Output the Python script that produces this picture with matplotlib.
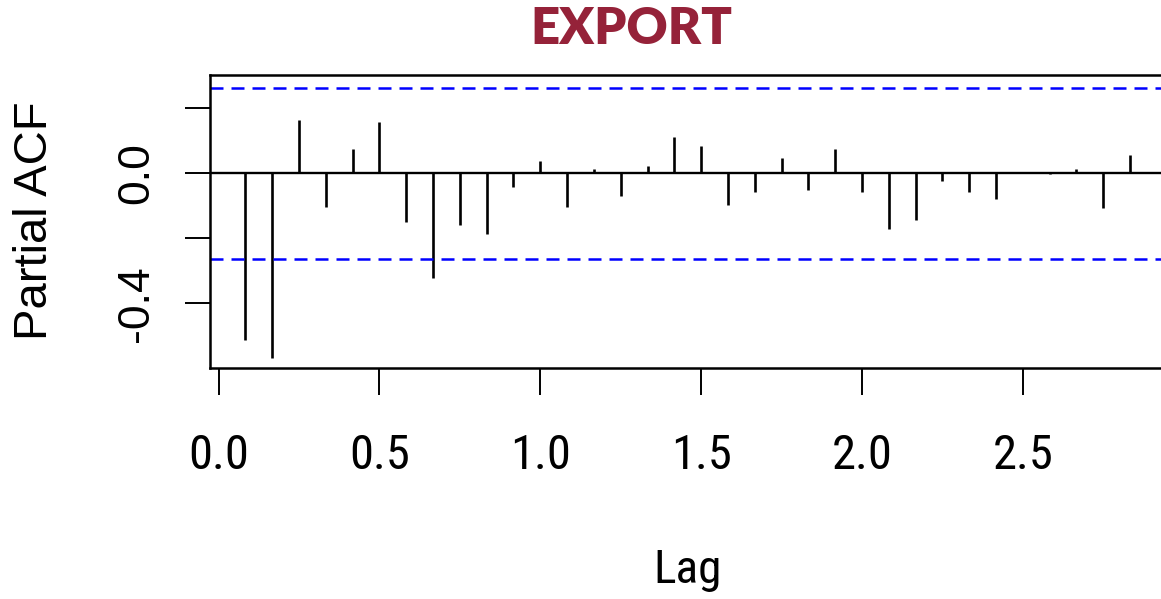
import numpy as np
import matplotlib
matplotlib.use("Agg")
import matplotlib.pyplot as plt
from matplotlib import font_manager

# Partial autocorrelation of the monthly export series, lags in years
freq = 12
lag_months = list(range(1, 35))
pacf_values = [-0.513, -0.567, 0.164, -0.104, 0.074, 0.157, -0.151, -0.323,
               -0.159, -0.187, -0.042, 0.039, -0.105, 0.012, -0.069, 0.021,
               0.111, 0.084, -0.096, -0.059, 0.047, -0.051, 0.075, -0.059,
               -0.170, -0.143, -0.024, -0.059, -0.078, 0.001, -0.001, 0.012,
               -0.106, 0.056]
conf_limit = 0.263
x_ticks = [0.0, 0.5, 1.0, 1.5, 2.0, 2.5]
x_tick_labels = ["0.0", "0.5", "1.0", "1.5", "2.0", "2.5"]
y_ticks = [-0.4, -0.2, 0.0, 0.2]
y_tick_labels = ["-0.4", "", "0.0", ""]

lags = np.array(lag_months) / freq

fonts = font_manager.fontManager.ttflist
names = {f.name for f in fonts}
base_font = "Liberation Sans" if "Liberation Sans" in names else "DejaVu Sans"

# a narrow sans for the x-axis text, if one is installed
narrow_font, narrow_stretch = None, "normal"
for cand in ["Liberation Sans Narrow", "Arial Narrow", "Roboto Condensed",
             "Open Sans Condensed", "DejaVu Sans Condensed"]:
    if cand in names:
        narrow_font = cand
        break
if narrow_font is None:
    for fam in ["Roboto", "Open Sans", "DejaVu Sans", "Noto Sans"]:
        if any(f.name == fam and str(f.stretch) in ("condensed", "semi-condensed", "75", "87")
               for f in fonts):
            narrow_font, narrow_stretch = fam, "condensed"
            break
if narrow_font is None:
    narrow_font = "Roboto" if "Roboto" in names else base_font

title_font = "Lato" if "Lato" in names else base_font

W, H = 1161, 599
fig = plt.figure(figsize=(W / 100, H / 100), dpi=100)

# axes box in pixels
left_px, right_px, top_px, bottom_px = 210, 1165.4, 75, 368.3
ax = fig.add_axes([left_px / W, 1 - bottom_px / H,
                   (right_px - left_px) / W, (bottom_px - top_px) / H])
ax.set_xlim(-0.0267, 2.9433)
ax.set_ylim(-0.600, 0.3025)

ax.vlines(lags, 0, pacf_values, color="black", linewidth=1.9)
ax.axhline(0, color="black", linewidth=1.7)
for c in (conf_limit, -conf_limit):
    ax.axhline(c, color="#0000ff", linewidth=1.8, linestyle=(0, (5.2, 3.2)))

for s in ax.spines.values():
    s.set_linewidth(1.8)
    s.set_color("black")

ax.set_xticks(x_ticks)
ax.set_xticklabels(x_tick_labels, fontfamily=narrow_font, fontstretch=narrow_stretch,
                   fontsize=35)
ax.set_yticks(y_ticks)
ax.set_yticklabels(y_tick_labels, fontfamily=base_font, fontsize=32,
                   rotation=90, va="center")
ax.tick_params(axis="x", length=19.5, width=1.4, pad=27, direction="out")
ax.tick_params(axis="y", length=18, width=1.4, pad=20, direction="out")

fig.text(35 / W, 1 - 221 / H, "Partial ACF", rotation=90, ha="center",
         va="center", fontsize=34, fontfamily=base_font)
fig.text(688 / W, 1 - 570 / H, "Lag", ha="center", va="center",
         fontsize=34, fontfamily=narrow_font, fontstretch=narrow_stretch)
fig.text(631 / W, 1 - 29 / H, "EXPORT", ha="center", va="center",
         fontsize=36.5, fontweight="heavy", color="#952239", fontfamily=title_font)

fig.savefig("out.png", dpi=100, facecolor="white")
